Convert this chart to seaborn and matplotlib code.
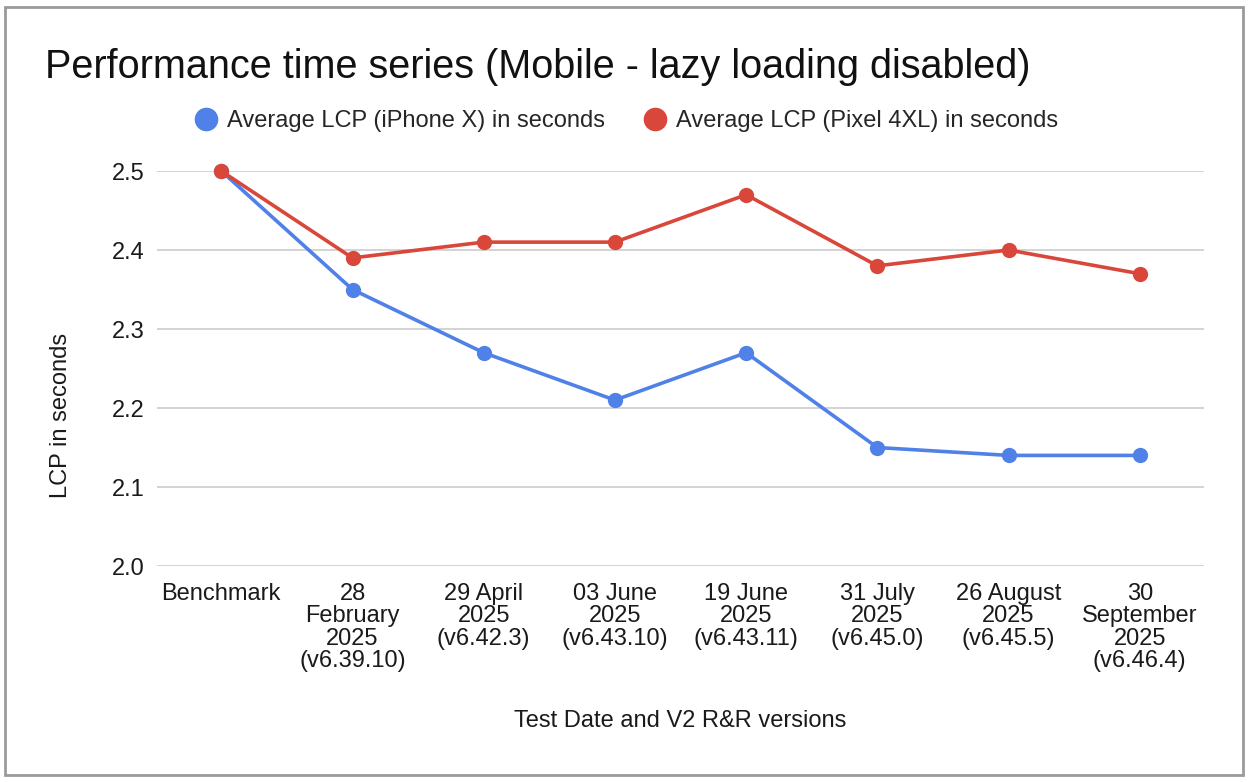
import matplotlib
matplotlib.use("Agg")
import matplotlib.pyplot as plt
from matplotlib.lines import Line2D
from matplotlib.patches import Rectangle
import pandas as pd
import seaborn as sns

# Chart data
categories = [
    "Benchmark",
    "28\nFebruary\n2025\n(v6.39.10)",
    "29 April\n2025\n(v6.42.3)",
    "03 June\n2025\n(v6.43.10)",
    "19 June\n2025\n(v6.43.11)",
    "31 July\n2025\n(v6.45.0)",
    "26 August\n2025\n(v6.45.5)",
    "30\nSeptember\n2025\n(v6.46.4)",
]
iphone_x = [2.50, 2.35, 2.27, 2.21, 2.27, 2.15, 2.14, 2.14]
pixel_4xl = [2.50, 2.39, 2.41, 2.41, 2.47, 2.38, 2.40, 2.37]
series_names = ["Average LCP (iPhone X) in seconds", "Average LCP (Pixel 4XL) in seconds"]
y_ticks = [2.0, 2.1, 2.2, 2.3, 2.4, 2.5]

color_blue = "#4f81e8"
color_red = "#d9473a"

df = pd.DataFrame({
    "pos": list(range(len(categories))) * 2,
    "value": iphone_x + pixel_4xl,
    "series": [series_names[0]] * len(categories) + [series_names[1]] * len(categories),
})

sns.set_theme(style="white")
plt.rcParams["font.family"] = ["Liberation Sans", "DejaVu Sans"]

fig = plt.figure(figsize=(12.52, 7.82), dpi=100)
ax = fig.add_axes([0.1254, 0.2762, 0.8363, 0.5051])

# Blue first so the red series sits on top at the shared benchmark point
sns.lineplot(data=df, x="pos", y="value", hue="series", hue_order=series_names,
             palette=[color_blue, color_red], marker="o", markersize=11,
             markeredgewidth=0, linewidth=2.6, ax=ax, legend=False, clip_on=False)

ax.set_xlim(-0.49, len(categories) - 0.51)
ax.set_ylim(2.0, 2.5)
ax.set_yticks(y_ticks)
ax.set_yticklabels([f"{t:.1f}" for t in y_ticks], fontsize=17)
ax.set_xticks(range(len(categories)))
ax.set_xticklabels(categories, fontsize=17, linespacing=1.03, va="top")
ax.tick_params(axis="both", length=0, colors="#1a1a1a")
ax.tick_params(axis="x", pad=12)
ax.tick_params(axis="y", pad=9)
ax.yaxis.grid(True, color="#cccccc", linewidth=1.2)
ax.set_axisbelow(True)
for s in ax.spines.values():
    s.set_visible(False)

ax.set_xlabel("Test Date and V2 R&R versions", fontsize=17, color="#1a1a1a")
ax.xaxis.set_label_coords(0.5, -0.365)
ax.set_ylabel("LCP in seconds", fontsize=17, color="#1a1a1a")
ax.yaxis.set_label_coords(-0.081, 0.38)

# Title
fig.text(0.036, 0.900, "Performance time series (Mobile - lazy loading disabled)",
         fontsize=28.5, ha="left", va="baseline", color="#111111")

# Legend with circle markers only
handles = [Line2D([], [], marker="o", linestyle="none", markersize=17,
                  markerfacecolor=c, markeredgewidth=0)
           for c in (color_blue, color_red)]
fig.legend(handles, series_names, loc="center", bbox_to_anchor=(0.499, 0.845),
           ncol=2, frameon=False, fontsize=17, handletextpad=0.3,
           columnspacing=1.5, handlelength=1.2)

# Outer frame
fig.patches.append(Rectangle((5 / 1252, 7 / 782), 1238 / 1252, 768 / 782,
                             transform=fig.transFigure, fill=False,
                             edgecolor="#9a9a9a", linewidth=2))

fig.savefig("out.png", dpi=100)
